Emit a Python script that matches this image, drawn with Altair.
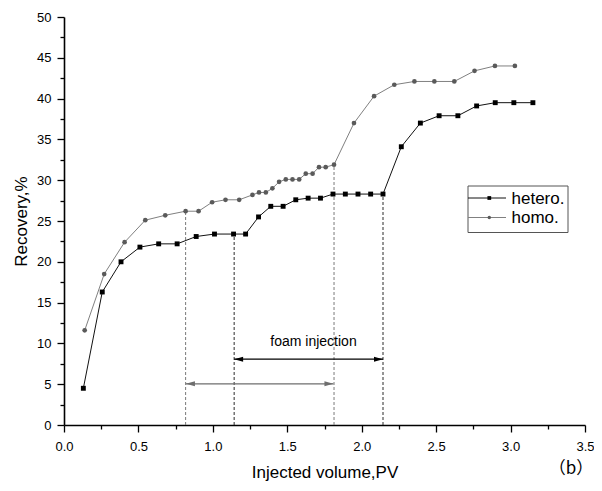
import altair as alt
import pandas as pd

# ---- data ----
hetero_x = [0.13, 0.257, 0.383, 0.51, 0.636, 0.76, 0.888, 1.011, 1.139, 1.22,
            1.307, 1.389, 1.472, 1.557, 1.64, 1.723, 1.807, 1.89, 1.975, 2.06,
            2.143, 2.266, 2.394, 2.52, 2.646, 2.772, 2.897, 3.022, 3.15]
hetero_y = [4.5, 16.3, 20.0, 21.8, 22.2, 22.2, 23.1, 23.4, 23.4, 23.4,
            25.5, 26.8, 26.8, 27.6, 27.8, 27.8, 28.3, 28.3, 28.3, 28.3,
            28.3, 34.1, 37.0, 37.9, 37.9, 39.1, 39.5, 39.5, 39.5]
homo_x = [0.139, 0.27, 0.407, 0.546, 0.68, 0.817, 0.904, 0.995, 1.085, 1.177,
          1.266, 1.31, 1.356, 1.4, 1.445, 1.49, 1.535, 1.58, 1.624, 1.67,
          1.713, 1.758, 1.814, 1.948, 2.083, 2.219, 2.354, 2.488, 2.622, 2.758,
          2.895, 3.029]
homo_y = [11.6, 18.5, 22.4, 25.1, 25.7, 26.2, 26.2, 27.3, 27.6, 27.6,
          28.2, 28.5, 28.5, 29.0, 29.8, 30.1, 30.1, 30.1, 30.8, 30.8,
          31.6, 31.6, 31.9, 37.0, 40.3, 41.7, 42.1, 42.1, 42.1, 43.4,
          44.0, 44.0]

guide_x = [0.817, 1.143, 1.814, 2.143]
guide_top = [26.2, 23.4, 31.9, 28.3]
guide_color = ["#7a7a7a", "#2a2a2a", "#7a7a7a", "#2a2a2a"]

arrow_start = [0.819, 1.143]
arrow_end = [1.81, 2.143]
arrow_y = [5.05, 8.07]
arrow_color = ["#6e6e6e", "#000000"]

note_text = ["foam injection"]
note_x = [1.676]
note_y = [10.2]

legend_labels = ["hetero.", "homo."]

x_tick_values = [0, 0.25, 0.5, 0.75, 1.0, 1.25, 1.5, 1.75, 2.0, 2.25, 2.5, 2.75,
                 3.0, 3.25, 3.5]
y_tick_values = [0, 2.5, 5, 7.5, 10, 12.5, 15, 17.5, 20, 22.5, 25, 27.5, 30,
                 32.5, 35, 37.5, 40, 42.5, 45, 47.5, 50]

FONT = "Liberation Sans"

# ---- shared encodings ----
x_axis = alt.Axis(
    values=x_tick_values,
    labelExpr="datum.value % 0.5 === 0 ? format(datum.value, '.1f') : ''",
    tickSize={"condition": {"test": "datum.value % 0.5 !== 0", "value": 4}, "value": 7},
    tickWidth=1.3, tickColor="black", domainColor="black", domainWidth=1.6,
    labelFont=FONT, labelFontSize=13, labelColor="black", labelPadding=8,
    titleFont=FONT, titleFontSize=17, titleFontWeight="normal", titleColor="black",
    titlePadding=11, grid=False, labelFlush=False,
)
y_axis = alt.Axis(
    values=y_tick_values,
    labelExpr="datum.value % 5 === 0 ? format(datum.value, 'd') : ''",
    tickSize={"condition": {"test": "datum.value % 5 !== 0", "value": 4}, "value": 7},
    tickWidth=1.3, tickColor="black", domainColor="black", domainWidth=1.6,
    labelFont=FONT, labelFontSize=13, labelColor="black", labelPadding=6,
    titleFont=FONT, titleFontSize=17, titleFontWeight="normal", titleColor="black",
    titlePadding=6, grid=False, labelFlush=False,
)
xs = alt.Scale(domain=[0, 3.5], nice=False, zero=False)
ys = alt.Scale(domain=[0, 50], nice=False, zero=False)
X = alt.X("x:Q", title="Injected volume,PV", scale=xs, axis=x_axis)
Y = alt.Y("y:Q", title="Recovery,%", scale=ys, axis=y_axis)

hetero = pd.DataFrame({"x": hetero_x, "y": hetero_y})
homo = pd.DataFrame({"x": homo_x, "y": homo_y})
guides = pd.DataFrame({"x": guide_x, "y": [0] * len(guide_x), "top": guide_top,
                       "c": guide_color})
arrows = pd.DataFrame({"x": arrow_start, "x2": arrow_end, "y": arrow_y, "c": arrow_color})
notes = pd.DataFrame({"x": note_x, "y": note_y, "t": note_text})

guide_layer = alt.Chart(guides).mark_rule(strokeDash=[3, 2], strokeWidth=1).encode(
    x=X, y=Y, y2="top:Q", color=alt.Color("c:N", scale=None))

arrow_line = alt.Chart(arrows).mark_rule(strokeWidth=1.2).encode(
    x=X, x2="x2:Q", y=Y, color=alt.Color("c:N", scale=None))
arrow_left = alt.Chart(arrows).mark_point(
    shape="M0,0L3.6,-1L3.6,1Z", filled=True, size=25, opacity=1).encode(
    x=X, y=Y, color=alt.Color("c:N", scale=None))
arrow_right = alt.Chart(arrows).mark_point(
    shape="M0,0L-3.6,-1L-3.6,1Z", filled=True, size=25, opacity=1).encode(
    x=alt.X("x2:Q", scale=xs, axis=x_axis, title="Injected volume,PV"), y=Y,
    color=alt.Color("c:N", scale=None))

note_layer = alt.Chart(notes).mark_text(font=FONT, fontSize=14, color="black").encode(
    x=X, y=Y, text="t:N")

homo_line = alt.Chart(homo).mark_line(color="#808080", strokeWidth=1).encode(x=X, y=Y)
homo_pts = alt.Chart(homo).mark_point(shape="circle", filled=True, size=22,
                                      color="#5a5a5a", opacity=1).encode(x=X, y=Y)
het_line = alt.Chart(hetero).mark_line(color="#111111", strokeWidth=1).encode(x=X, y=Y)
het_pts = alt.Chart(hetero).mark_point(shape="square", filled=True, size=24,
                                       color="black", opacity=1).encode(x=X, y=Y)

# ---- legend (drawn by hand, in pixels) ----
one = pd.DataFrame({"k": [0]})
leg_box = alt.Chart(one).mark_rect(fill="white", stroke="#555555", strokeWidth=1).encode(
    x=alt.value(404), x2=alt.value(504), y=alt.value(169), y2=alt.value(215.5))
leg_layers = [leg_box]
leg_rows = [(181, "#111111", "black", "square", 14), (200.5, "#808080", "#5a5a5a", "circle", 12)]
for (ly, lc, mc, shp, sz), lab in zip(leg_rows, legend_labels):
    leg_layers.append(alt.Chart(one).mark_rule(color=lc, strokeWidth=1).encode(
        x=alt.value(404), x2=alt.value(442), y=alt.value(ly)))
    leg_layers.append(alt.Chart(one).mark_point(shape=shp, filled=True, size=sz, color=mc,
                                                opacity=1).encode(
        x=alt.value(425.3), y=alt.value(ly)))
    leg_layers.append(alt.Chart(one).mark_text(
        text=lab, font=FONT, fontSize=17, align="left", baseline="middle", color="black").encode(
        x=alt.value(447.5), y=alt.value(ly + 0.5)))

panel_label = alt.Chart(one).mark_text(
    text="（b）", font="Noto Sans CJK SC", fontSize=17, align="center",
    baseline="middle", color="black").encode(x=alt.value(507), y=alt.value(452))

chart = alt.layer(
    guide_layer, arrow_line, arrow_left, arrow_right, note_layer,
    homo_line, homo_pts, het_line, het_pts, *leg_layers, panel_label
).properties(
    width=521, height=408, autosize="none",
    padding={"left": 56, "top": 9, "right": 9, "bottom": 58},
    background="white",
).configure_view(strokeWidth=0)

chart.save("out.html", embed_options={"renderer": "svg", "actions": False})
